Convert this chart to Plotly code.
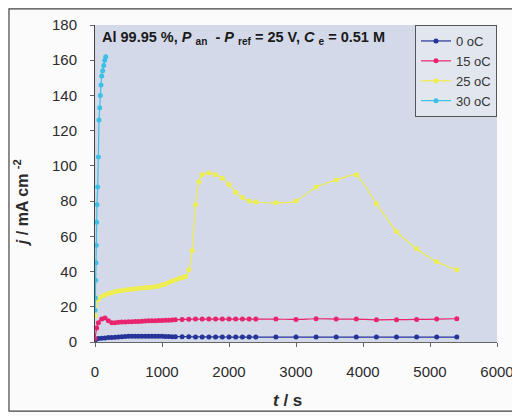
import plotly.graph_objects as go

# ---- data ----
series_names = ["0 oC", "15 oC", "25 oC", "30 oC"]
series_colors = ["#26349a", "#e8246e", "#eeee50", "#3cc0e6"]

t_0C = [0, 50, 100, 150, 200, 250, 300, 350, 400, 450, 500, 550, 600, 650, 700, 750,
        800, 850, 900, 950, 1000, 1050, 1100, 1150, 1200,
        1300, 1400, 1500, 1600, 1700, 1800, 1900, 2000, 2100, 2200, 2300, 2400,
        2700, 3000, 3300, 3600, 3900, 4200, 4500, 4800, 5100, 5400]
j_0C = [0.3, 2.0, 2.2, 2.3, 2.5, 2.6, 2.7, 2.8, 3.0, 3.1, 3.2, 3.3, 3.3, 3.3, 3.3, 3.3,
        3.3, 3.2, 3.2, 3.2, 3.2, 3.1, 3.1, 3.0, 3.0,
        3.0, 3.0, 2.9, 2.9, 2.9, 2.9, 2.9, 2.8, 2.8, 2.8, 2.8, 2.8,
        2.8, 2.8, 2.8, 2.8, 2.8, 2.8, 2.8, 2.8, 2.8, 2.8]

t_15C = [0, 25, 50, 100, 150, 200, 250, 300, 350, 400, 450, 500, 550, 600, 650, 700, 750,
         800, 850, 900, 950, 1000, 1050, 1100, 1150, 1200,
         1300, 1400, 1500, 1600, 1700, 1800, 1900, 2000, 2100, 2200, 2300, 2400,
         2700, 3000, 3300, 3600, 3900, 4200, 4500, 4800, 5100, 5400]
j_15C = [2.0, 8.0, 11.0, 13.0, 13.6, 12.0, 11.0, 11.0, 11.2, 11.3, 11.4, 11.5, 11.5, 11.6, 11.7, 11.8, 11.9,
         12.0, 12.0, 12.1, 12.2, 12.2, 12.3, 12.4, 12.5, 12.6,
         12.8, 12.9, 13.0, 13.0, 13.0, 13.0, 13.0, 13.0, 13.0, 13.0, 13.0, 13.0,
         13.0, 12.8, 13.2, 13.0, 13.0, 12.6, 12.7, 12.8, 13.0, 13.2]

t_25C = [0, 50, 100, 150, 200, 250, 300, 350, 400, 450, 500, 550, 600, 650, 700, 750,
         800, 850, 900, 950, 1000, 1050, 1100, 1150, 1200, 1250, 1300, 1350, 1400, 1450,
         1500, 1550, 1600, 1700, 1800, 1900, 2000, 2100, 2200, 2300, 2400,
         2700, 3000, 3300, 3600, 3900, 4200, 4500, 4800, 5100, 5400]
j_25C = [15.0, 24.0, 26.0, 26.7, 27.5, 28.0, 28.5, 29.0, 29.3, 29.5, 29.8, 30.0, 30.2, 30.4, 30.6, 30.8,
         31.0, 31.2, 31.4, 31.8, 32.3, 33.0, 33.8, 34.6, 35.2, 36.0, 36.5, 37.2, 41.0, 52.0,
         78.0, 91.0, 95.0, 96.0, 95.0, 93.0, 89.5, 85.0, 82.0, 80.0, 79.5,
         79.0, 80.0, 88.0, 92.0, 95.0, 78.5, 62.7, 53.0, 45.6, 41.0]

t_30C = [0, 5, 10, 15, 20, 25, 30, 40, 50, 60, 70, 80, 90, 100, 115, 130, 145, 160]
j_30C = [18, 25, 35, 45, 55, 68, 78, 88, 105, 126, 133, 140, 146, 151, 154, 157, 160, 162]

x_ticks = [0, 1000, 2000, 3000, 4000, 5000, 6000]
y_ticks = [0, 20, 40, 60, 80, 100, 120, 140, 160, 180]

FONT = "Liberation Sans, Arial, sans-serif"

fig = go.Figure()
all_t = [t_0C, t_15C, t_25C, t_30C]
all_j = [j_0C, j_15C, j_25C, j_30C]
for name, col, tt, jj in zip(series_names, series_colors, all_t, all_j):
    fig.add_trace(go.Scatter(
        x=tt, y=jj, name=name, mode="lines+markers",
        line=dict(color=col, width=1.2, shape="spline", smoothing=0.5),
        marker=dict(color=col, size=5, symbol="circle"),
    ))

# page body has an 8px default margin, so the figure is drawn offset by (8, 8)
fig.update_layout(
    width=512, height=408,
    margin=dict(l=87, r=23, t=17, b=74),
    paper_bgcolor="#fbfbfb",
    plot_bgcolor="#d3d9e8",
    font=dict(family=FONT, size=15, color="#2b2b2b"),
    showlegend=True,
    legend=dict(
        x=1, y=1, xanchor="right", yanchor="top",
        bgcolor="#e2e6ef", bordercolor="#555555", borderwidth=1,
        font=dict(family=FONT, size=13, color="#333333"),
        itemwidth=30, tracegroupgap=0,
    ),
    xaxis=dict(
        range=[0, 6000], tickvals=x_ticks, ticktext=[str(v) for v in x_ticks],
        showgrid=False, zeroline=False, showline=True, linecolor="#666666", linewidth=1,
        ticks="outside", ticklen=4, tickcolor="#666666", ticklabelstandoff=12,
        tickfont=dict(family=FONT, size=15, color="#2b2b2b"), automargin=False,
    ),
    yaxis=dict(
        range=[0, 180], tickvals=y_ticks, ticktext=[str(v) for v in y_ticks],
        showgrid=False, zeroline=False, showline=True, linecolor="#444444", linewidth=1,
        ticks="outside", ticklen=4, tickcolor="#666666", ticklabelstandoff=10,
        tickfont=dict(family=FONT, size=15, color="#2b2b2b"), automargin=False,
    ),
)

fig.add_annotation(
    xref="paper", yref="paper", x=0.012, y=0.958, xanchor="left", yanchor="middle",
    showarrow=False,
    text="<b>Al 99.95 %, <i>P</i> <sub>an</sub>  - <i>P</i> <sub>ref</sub> = 25 V, <i>C</i> <sub>e</sub> = 0.51 M</b>",
    font=dict(family=FONT, size=14.5, color="#1a1a1a"),
)
fig.add_annotation(
    xref="paper", yref="paper", x=0.48, y=-0.183, xanchor="center", yanchor="middle",
    showarrow=False, text="<b><i>t</i> / s</b>",
    font=dict(family=FONT, size=17, color="#2b2b2b"),
)
fig.add_annotation(
    xref="paper", yref="paper", x=-0.185, y=0.44, xanchor="center", yanchor="middle",
    showarrow=False, textangle=-90,
    text="<b><i>j</i> / mA cm <sup>-2</sup></b>",
    font=dict(family=FONT, size=16, color="#2b2b2b"),
)
fig.add_shape(
    type="rect", xref="paper", yref="paper",
    x0=-0.214, x1=1.043, y0=-0.218, y1=1.051,
    line=dict(color="#444444", width=1.2), fillcolor="rgba(0,0,0,0)", layer="below",
)

fig.write_html("out.html")
